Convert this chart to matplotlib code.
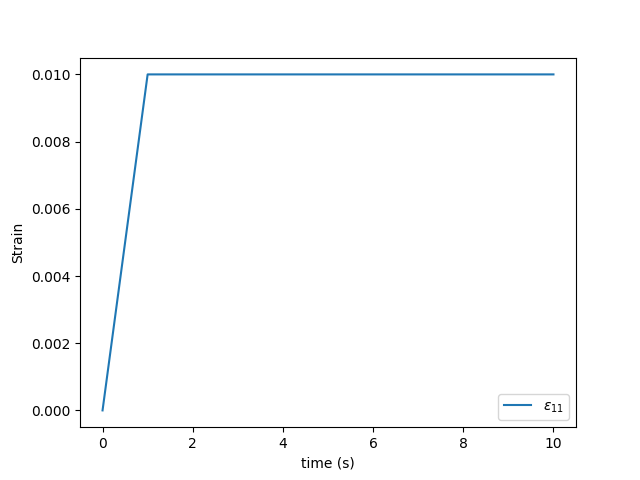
import matplotlib
matplotlib.use('Agg')
import matplotlib.pyplot as plt

# Loading history: ramp to 1% strain over 1 s, then hold
time = [0.0, 1.0, 10.0]
strain_11 = [0.0, 0.01, 0.01]

fig, ax = plt.subplots(figsize=(6.4, 4.8), dpi=100)
ax.plot(time, strain_11, label=r'$\varepsilon_{11}$')
ax.set_xlabel('time (s)')
ax.set_ylabel('Strain')
ax.legend(loc='lower right')
fig.savefig('out.png')
